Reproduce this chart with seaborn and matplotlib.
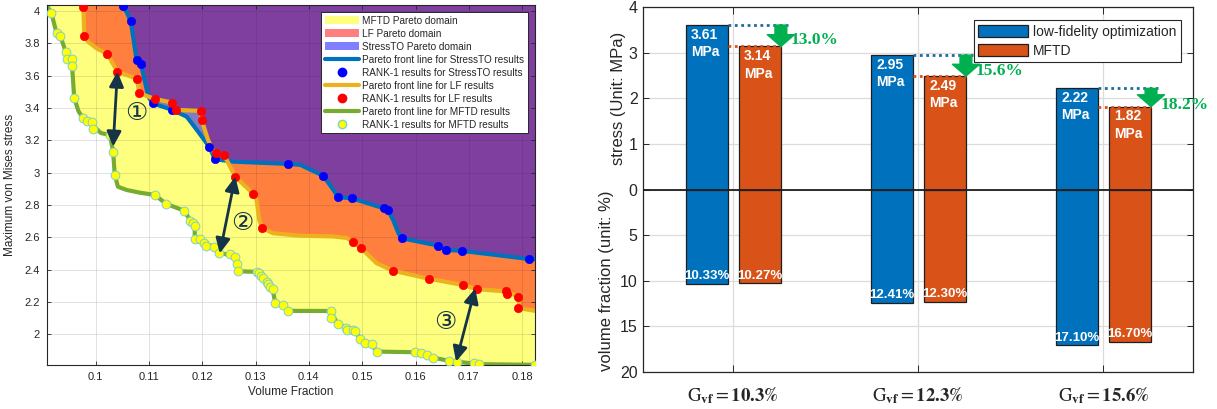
import numpy as np
import pandas as pd
import matplotlib
matplotlib.use("Agg")
import matplotlib.pyplot as plt
import matplotlib.transforms as mtransforms
from matplotlib.patches import Patch, FancyArrowPatch
from matplotlib.lines import Line2D
from matplotlib.ticker import FuncFormatter
import seaborn as sns

# ------------------------------------------------------------------
# Left chart data
# ------------------------------------------------------------------
mftd_x = [0.0917, 0.0927, 0.0934, 0.0944, 0.0947, 0.0955, 0.0956, 0.0960, 0.0977, 0.0984,
          0.0994, 0.0996, 0.1027, 0.1033, 0.1036, 0.1111, 0.1133, 0.1166, 0.1178, 0.1183,
          0.1186, 0.1186, 0.1196, 0.1203, 0.1208, 0.1222, 0.1232, 0.1252, 0.1262, 0.1265,
          0.1268, 0.1302, 0.1307, 0.1311, 0.1314, 0.1321, 0.1324, 0.1327, 0.1332, 0.1337,
          0.1352, 0.1360, 0.1441, 0.1441, 0.1454, 0.1470, 0.1472, 0.1482, 0.1487, 0.1496,
          0.1505, 0.1518, 0.1527, 0.1599, 0.1610, 0.1621, 0.1633, 0.1662, 0.1677, 0.1710,
          0.1719, 0.1824]
mftd_y = [3.990, 3.862, 3.845, 3.748, 3.703, 3.701, 3.662, 3.462, 3.336, 3.322,
          3.314, 3.270, 3.233, 3.130, 2.986, 2.862, 2.806, 2.765, 2.703, 2.691,
          2.670, 2.588, 2.588, 2.563, 2.547, 2.542, 2.505, 2.495, 2.480, 2.435,
          2.390, 2.386, 2.378, 2.361, 2.347, 2.326, 2.312, 2.295, 2.279, 2.192,
          2.182, 2.145, 2.144, 2.103, 2.062, 2.041, 2.027, 2.027, 2.021, 1.973,
          1.949, 1.939, 1.893, 1.889, 1.883, 1.873, 1.856, 1.836, 1.831, 1.825,
          1.815, 1.811]

mftd_front_x = [0.0908, 0.0917, 0.0927, 0.0934, 0.0944, 0.0950, 0.0956, 0.0960, 0.0968,
                0.0977, 0.0996, 0.1010, 0.1027, 0.1033, 0.1036, 0.1042, 0.1058, 0.1083,
                0.1111, 0.1133, 0.1166, 0.1178, 0.1186, 0.1186, 0.1203, 0.1222, 0.1232,
                0.1262, 0.1268, 0.1302, 0.1314, 0.1332, 0.1337, 0.1352, 0.1360, 0.1441,
                0.1454, 0.1487, 0.1496, 0.1518, 0.1527, 0.1599, 0.1633, 0.1662, 0.1719,
                0.1824]
mftd_front_y = [4.037, 3.990, 3.862, 3.845, 3.748, 3.702, 3.662, 3.462, 3.380,
                3.336, 3.290, 3.245, 3.233, 3.130, 2.986, 2.913, 2.893, 2.876,
                2.862, 2.806, 2.765, 2.703, 2.670, 2.588, 2.563, 2.542, 2.505,
                2.480, 2.390, 2.386, 2.347, 2.279, 2.192, 2.182, 2.145, 2.144,
                2.062, 2.021, 1.973, 1.939, 1.893, 1.889, 1.856, 1.836, 1.815,
                1.811]

lf_x = [0.0977, 0.0979, 0.1022, 0.1041, 0.1078, 0.1082, 0.1111, 0.1144, 0.1151, 0.1197,
        0.1199, 0.1225, 0.1241, 0.1262, 0.1296, 0.1313, 0.1483, 0.1498, 0.1557, 0.1626,
        0.1689, 0.1715, 0.1770, 0.1771, 0.1793, 0.1793]
lf_y = [4.027, 3.847, 3.734, 3.625, 3.580, 3.491, 3.456, 3.433, 3.388, 3.382,
        3.326, 3.120, 3.109, 2.975, 2.868, 2.656, 2.570, 2.532, 2.394, 2.343,
        2.305, 2.279, 2.270, 2.250, 2.233, 2.161]

lf_front_x = [0.0977, 0.0979, 0.0986, 0.1002, 0.1022, 0.1041, 0.1078, 0.1082, 0.1111,
              0.1144, 0.1151, 0.1197, 0.1199, 0.1211, 0.1221, 0.1225, 0.1241, 0.1262,
              0.1296, 0.1302, 0.1307, 0.1313, 0.1333, 0.1383, 0.1446, 0.1471, 0.1483,
              0.1498, 0.1527, 0.1557, 0.1626, 0.1689, 0.1715, 0.1770, 0.1793, 0.1795,
              0.1824]
lf_front_y = [4.037, 3.847, 3.810, 3.769, 3.734, 3.625, 3.580, 3.491, 3.456,
              3.433, 3.388, 3.382, 3.326, 3.202, 3.130, 3.120, 3.109, 2.975,
              2.868, 2.831, 2.707, 2.656, 2.625, 2.610, 2.605, 2.596, 2.570,
              2.532, 2.440, 2.394, 2.343, 2.305, 2.279, 2.265, 2.233, 2.161,
              2.145]

st_x = [0.1052, 0.1066, 0.1077, 0.1085, 0.1107, 0.1144, 0.1213, 0.1224, 0.1361, 0.1427,
        0.1455, 0.1480, 0.1540, 0.1548, 0.1574, 0.1642, 0.1657, 0.1687, 0.1812]
st_y = [4.030, 3.938, 3.697, 3.672, 3.429, 3.388, 3.161, 3.083, 3.054, 2.981,
        2.848, 2.842, 2.780, 2.769, 2.594, 2.549, 2.522, 2.516, 2.466]

st_front_x = [0.1052, 0.1066, 0.1077, 0.1085, 0.1099, 0.1107, 0.1144, 0.1171, 0.1190,
              0.1213, 0.1224, 0.1258, 0.1361, 0.1384, 0.1427, 0.1446, 0.1455, 0.1480,
              0.1540, 0.1548, 0.1558, 0.1568, 0.1574, 0.1642, 0.1657, 0.1687, 0.1812,
              0.1824]
st_front_y = [4.037, 3.938, 3.697, 3.672, 3.470, 3.429, 3.388, 3.346, 3.264,
              3.161, 3.083, 3.068, 3.054, 3.048, 2.981, 2.893, 2.848, 2.842,
              2.780, 2.769, 2.707, 2.625, 2.594, 2.549, 2.522, 2.516, 2.466,
              2.465]

# double-headed arrows (top point, bottom point) and circled labels
arrow_top = [(0.1041, 3.625), (0.1262, 2.975), (0.1712, 2.284)]
arrow_bot = [(0.1033, 3.161), (0.1233, 2.500), (0.1676, 1.831)]
circ_pos = [(0.1076, 3.367), (0.1276, 2.691), (0.1655, 2.078)]
circ_txt = ["\u2460", "\u2461", "\u2462"]

# ------------------------------------------------------------------
# Right chart data
# ------------------------------------------------------------------
groups = ["10.3", "12.3", "15.6"]
group_labels = [r"$\mathrm{G}_{\mathbf{vf}} = \mathbf{10.3\%}$",
                r"$\mathrm{G}_{\mathbf{vf}} = \mathbf{12.3\%}$",
                r"$\mathrm{G}_{\mathbf{vf}} = \mathbf{15.6\%}$"]
methods = ["low-fidelity optimization", "MFTD"]
stress_lf = [3.61, 2.95, 2.22]
stress_mftd = [3.14, 2.49, 1.82]
vf_lf = [10.33, 12.41, 17.10]
vf_mftd = [10.27, 12.30, 16.70]
reduction_labels = ["13.0%", "15.6%", "18.2%"]

# ------------------------------------------------------------------
sns.set_theme(style="ticks")
plt.rcParams["font.family"] = ["Liberation Sans", "DejaVu Sans", "Noto Sans CJK SC"]
plt.rcParams["mathtext.fontset"] = "stix"

fig = plt.figure(figsize=(12.17, 4.09), dpi=100)
W, H = 1217, 409
ax1 = fig.add_axes([47 / W, (H - 365) / H, 488 / W, 360 / H])
ax2 = fig.add_axes([643.3 / W, (H - 371.7) / H, 550 / W, 364.4 / H])

# ---------------- Left chart ----------------
XMIN, XMAX, YMIN, YMAX = 0.0909, 0.1824, 1.81, 4.037
TOP = 4.2
c_yel, c_red, c_blu = (1, 1, 0), (1, 0, 0), (0, 0, 1)
for fx, fy, col in [(mftd_front_x, mftd_front_y, c_yel),
                    (lf_front_x, lf_front_y, c_red),
                    (st_front_x, st_front_y, c_blu)]:
    px = list(fx) + [XMAX + 0.01, XMAX + 0.01, fx[0]]
    py = list(fy) + [fy[-1], TOP, TOP]
    ax1.fill(px, py, color=col, alpha=0.5, lw=0, zorder=1)

line_blue, line_orange, line_green = "#0072BD", "#EDB120", "#77AC30"
sns.lineplot(x=st_front_x, y=st_front_y, sort=False, estimator=None,
             color=line_blue, lw=3, ax=ax1, zorder=2)
sns.lineplot(x=lf_front_x, y=lf_front_y, sort=False, estimator=None,
             color=line_orange, lw=3, ax=ax1, zorder=2)
sns.lineplot(x=mftd_front_x, y=mftd_front_y, sort=False, estimator=None,
             color=line_green, lw=3, ax=ax1, zorder=2)
sns.scatterplot(x=st_x, y=st_y, color="blue", edgecolor="blue", s=36, linewidth=0.5,
                ax=ax1, zorder=3)
sns.scatterplot(x=lf_x, y=lf_y, color="red", edgecolor="red", s=36, linewidth=0.5,
                ax=ax1, zorder=3)
sns.scatterplot(x=mftd_x, y=mftd_y, color="yellow", edgecolor="#7fcfd0", s=40,
                linewidth=0.7, ax=ax1, zorder=3)

arrow_col = "#163447"
for (x0, y0), (x1, y1) in zip(arrow_bot, arrow_top):
    ax1.annotate("", xy=(x1, y1), xytext=(x0, y0),
                 arrowprops=dict(arrowstyle="<|-|>,head_length=0.5,head_width=0.24",
                                 mutation_scale=18, color=arrow_col, lw=2.0,
                                 shrinkA=0, shrinkB=0), zorder=4)
for (cx, cy), t in zip(circ_pos, circ_txt):
    ax1.text(cx, cy, t, fontsize=18, color=arrow_col, ha="center", va="center",
             family=["DejaVu Sans", "Noto Sans CJK SC"], zorder=4)

ax1.set_xlim(XMIN, XMAX)
ax1.set_ylim(YMIN, YMAX)
ax1.set_xticks(np.arange(0.10, 0.1801, 0.01))
ax1.set_yticks(np.arange(2.0, 4.001, 0.2))
ax1.xaxis.set_major_formatter(FuncFormatter(lambda v, p: f"{v:.2f}".rstrip("0")))
ax1.yaxis.set_major_formatter(FuncFormatter(lambda v, p: f"{v:.1f}".rstrip("0").rstrip(".")))
ax1.tick_params(direction="in", length=3, width=0.6, labelsize=8, colors="#262626",
                top=True, right=True, labeltop=False, labelright=False, pad=5)
ax1.grid(True, color="#262626", alpha=0.15, lw=0.6)
ax1.set_axisbelow("line")
for sp in ax1.spines.values():
    sp.set_color("#262626")
    sp.set_linewidth(0.8)
ax1.set_xlabel("Volume Fraction", fontsize=8.5, color="#262626", labelpad=3)
ax1.set_ylabel("Maximum von Mises stress", fontsize=8.5, color="#262626", labelpad=6)

leg_handles = [
    Patch(facecolor=c_yel, alpha=0.5, edgecolor="none"),
    Patch(facecolor=c_red, alpha=0.5, edgecolor="none"),
    Patch(facecolor=c_blu, alpha=0.5, edgecolor="none"),
    Line2D([], [], color=line_blue, lw=3),
    Line2D([], [], ls="none", marker="o", ms=6, mfc="blue", mec="blue"),
    Line2D([], [], color=line_orange, lw=3),
    Line2D([], [], ls="none", marker="o", ms=6, mfc="red", mec="red"),
    Line2D([], [], color=line_green, lw=3),
    Line2D([], [], ls="none", marker="o", ms=6, mfc="yellow", mec="#7fcfd0"),
]
leg_labels = ["MFTD Pareto domain", "LF Pareto domain", "StressTO Pareto domain",
              "Pareto front line for StressTO results", "RANK-1 results for StressTO results",
              "Pareto front line for LF results", "RANK-1 results for LF results",
              "Pareto front line for MFTD results", "RANK-1 results for MFTD results"]
lg1 = ax1.legend(leg_handles, leg_labels, loc="upper right", fontsize=7.2,
                 labelspacing=0.3, handlelength=3.4, handleheight=0.9, handletextpad=0.4,
                 borderaxespad=0.7, borderpad=0.35, fancybox=False, framealpha=1,
                 edgecolor="#262626")
lg1.get_frame().set_linewidth(0.7)
lg1.set_zorder(10)

# ---------------- Right chart ----------------
c_lf, c_mf = "#0072BD", "#D95319"
df = pd.DataFrame({
    "group": groups * 2,
    "method": [methods[0]] * 3 + [methods[1]] * 3,
    "stress": stress_lf + stress_mftd,
    "vf": vf_lf + vf_mftd,
})
df["vf_plot"] = -df["vf"] / 5.0

TOTAL_W, GAP = 0.572, 0.2
for col in ["stress", "vf_plot"]:
    sns.barplot(data=df, x="group", y=col, hue="method", hue_order=methods,
                palette=[c_lf, c_mf], width=TOTAL_W, gap=GAP, saturation=1,
                edgecolor="#1e1e1e", linewidth=0.9, errorbar=None, legend=False,
                ax=ax2, zorder=2)

half = TOTAL_W / 4
bw = TOTAL_W / 2 * (1 - GAP)
green = "#00B050"
pct_dy = [0.14, 0.11, 0.03]
for i in range(3):
    cl, cm = i - half, i + half
    l_right, m_left, m_right = cl + bw / 2, cm - bw / 2, cm + bw / 2
    # stress labels
    for c, v in [(cl, stress_lf[i]), (cm, stress_mftd[i])]:
        ax2.text(c - bw / 2 + 0.03, v - 0.06, f"{v:.2f}\nMPa", ha="left", va="top",
                 color="white", fontsize=10, fontweight="bold", linespacing=1.3, zorder=5)
    # volume-fraction labels
    for c, v in [(cl, vf_lf[i]), (cm, vf_mftd[i])]:
        ax2.text(c, -v / 5 + 0.16, f"{v:.2f}%", ha="center", va="center",
                 color="white", fontsize=9.5, fontweight="bold", zorder=5)
    # dotted reference lines
    ax2.plot([l_right, m_right + 0.036], [stress_lf[i]] * 2, ls=(0, (1, 1.3)),
             color="#1f6a9e", lw=2, zorder=4)
    ax2.plot([l_right, m_right], [stress_mftd[i]] * 2, ls=(0, (1, 1.3)),
             color=c_mf, lw=2, zorder=4)
    # green arrow
    arr = FancyArrowPatch((m_right, stress_lf[i]), (m_right, stress_mftd[i]),
                          arrowstyle="simple,head_length=0.85,head_width=1.95,tail_width=0.85",
                          mutation_scale=10, color=green, shrinkA=0, shrinkB=0, zorder=6)
    ax2.add_patch(arr)
    ax2.text(m_right + 0.052, stress_mftd[i] + pct_dy[i], reduction_labels[i],
             ha="left", va="center", color=green, fontsize=12.5, fontweight="bold",
             family=["Liberation Serif"], zorder=6)

ax2.axhline(0, color="#1e1e1e", lw=1.3, zorder=3)
ax2.set_xlim(-0.486, 2.486)
ax2.set_ylim(-4, 4)
ax2.set_yticks([4, 3, 2, 1, 0, -1, -2, -3, -4])
ax2.set_yticklabels(["4", "3", "2", "1", "0", "5", "10", "15", "20"])
ax2.set_xticks([0, 1, 2])
ax2.set_xticklabels(group_labels, fontsize=13.5)
ax2.tick_params(axis="y", direction="in", length=4, width=0.7, labelsize=11.5,
                colors="#262626", right=True, pad=4)
ax2.tick_params(axis="x", direction="in", length=5, width=0.7, colors="#262626",
                top=True, pad=10)
ax2.grid(True, color="#dcdcdc", lw=0.9)
ax2.set_axisbelow(True)
for sp in ax2.spines.values():
    sp.set_color("#262626")
    sp.set_linewidth(0.9)
ax2.set_xlabel("")
ax2.set_ylabel("")
trans = mtransforms.blended_transform_factory(ax2.transAxes, ax2.transData)
ax2.text((618 - 643.3) / 550, 2.0, "stress (Unit: MPa)", rotation=90, ha="center",
         va="center", fontsize=12, color="#262626", transform=trans)
ax2.text((606 - 643.3) / 550, -2.0, "volume fraction (unit: %)", rotation=90,
         ha="center", va="center", fontsize=12, color="#262626", transform=trans)

lg2 = ax2.legend([Patch(facecolor=c_lf, edgecolor="#1e1e1e", lw=0.9),
                  Patch(facecolor=c_mf, edgecolor="#1e1e1e", lw=0.9)], methods,
                 loc="upper right", fontsize=10, handlelength=3.6, handleheight=1.0,
                 handletextpad=0.3, labelspacing=0.35, borderaxespad=0.9,
                 borderpad=0.35, fancybox=False, framealpha=1, edgecolor="#262626")
lg2.get_frame().set_linewidth(0.8)
lg2.set_zorder(10)

fig.savefig("out.png", dpi=100)
